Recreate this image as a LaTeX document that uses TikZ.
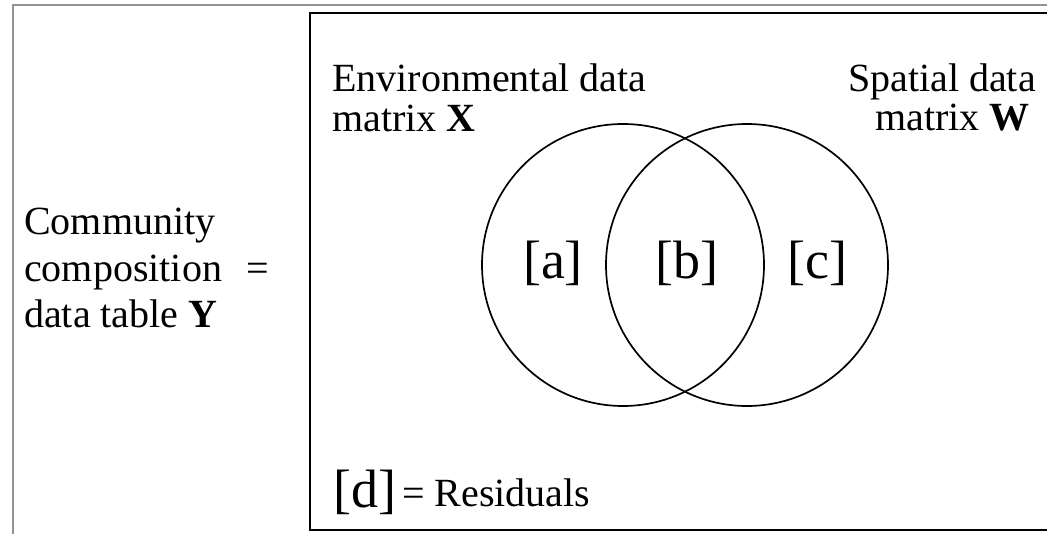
\documentclass[tikz,border=0pt]{standalone}
\usepackage{fontspec}
\setmainfont{Liberation Serif}
\begin{document}
\begin{tikzpicture}[x=1pt,y=-1pt,
  txt/.style={inner sep=0pt,font=\fontsize{40}{40}\selectfont},
  lbl/.style={inner sep=0pt,font=\fontsize{54}{54}\selectfont},
  venn/.style={draw,circle,line width=1.7pt,minimum size=282pt,inner sep=0pt}]
\useasboundingbox (0,0) rectangle (1047,534);
\fill[white] (0,0) rectangle (1047,534);
% outer grey frame
\draw[gray!85,line width=2pt] (13,540) -- (13,5) -- (1052,5);
% black box
\draw[line width=2.2pt] (1052,13) -- (310,13) -- (310,530) -- (1052,530);
% circles
\node[venn] (X) at (623,265) {};
\node[venn] (W) at (747,265) {};
% region labels
\node[lbl] (a) at (553,263) {[a]};
\node[lbl] (b) at (687,263) {[b]};
\node[lbl] (c) at (817,263) {[c]};
% top labels
\node[txt,anchor=base west] (env1) at (332,92) {Environmental data};
\node[txt,anchor=base west] (env2) at (332,132) {matrix \textbf{X}};
\node[txt,anchor=base east] (sp1) at (1036,92) {Spatial data};
\node[txt,anchor=base east] (sp2) at (1030,131) {matrix \textbf{W}};
% left labels
\node[txt,anchor=base west] (y1) at (24,235) {Community};
\node[txt,anchor=base west] (y2) at (24,282) {composition};
\node[txt,anchor=base west] (y3) at (24,328) {data table \textbf{Y}};
\node[txt] (eq) at (258,272) {=};
% residuals
\node[lbl,anchor=base west] (d) at (333,507) {[d]};
\node[txt,anchor=base west] (res) at (402,506) {= Residuals};
\end{tikzpicture}
\end{document}
